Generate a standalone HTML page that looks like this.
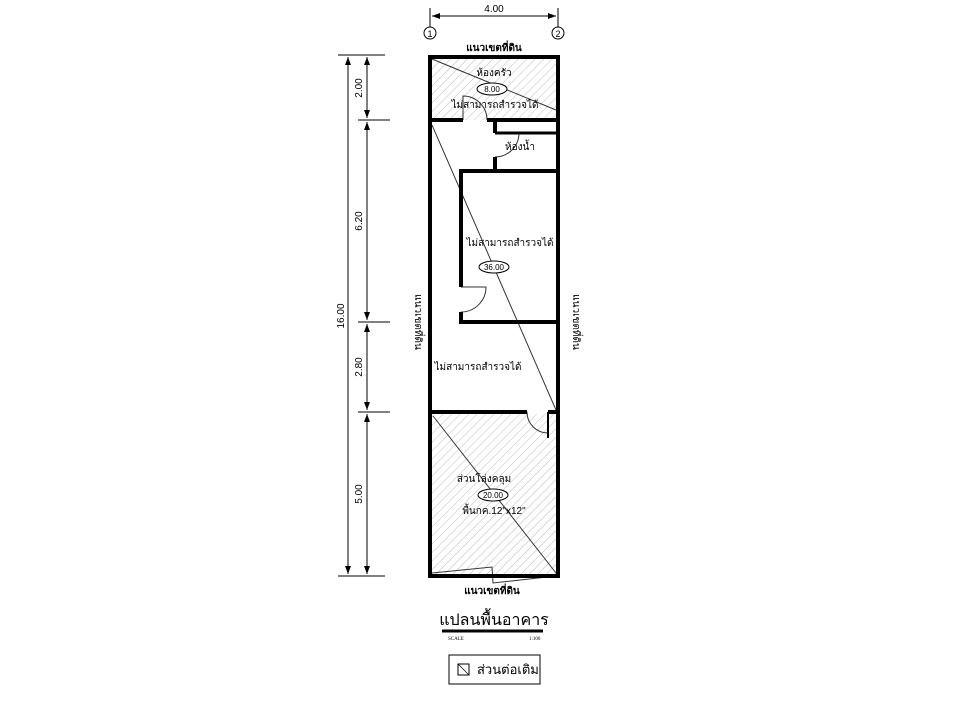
<!DOCTYPE html>
<html><head><meta charset="utf-8"><style>
html,body{margin:0;padding:0;background:#fff;}
svg{display:block;font-family:"Liberation Sans",sans-serif;}
</style></head><body>
<svg width="960" height="720" viewBox="0 0 960 720" xmlns="http://www.w3.org/2000/svg">
<defs>
<pattern id="h" width="6" height="6" patternUnits="userSpaceOnUse" patternTransform="rotate(45)">
<line x1="0" y1="0" x2="0" y2="6" stroke="#bbb" stroke-width="1"/>
</pattern>
<marker id="a" markerWidth="8" markerHeight="6" refX="8" refY="3" orient="auto"><path d="M0,0 L8,3 L0,6z" fill="#000"/></marker>
</defs>
<!-- hatches -->
<rect x="432" y="59" width="124" height="61" fill="url(#h)"/>
<rect x="432" y="414" width="124" height="160" fill="url(#h)"/>
<!-- top dim -->
<line x1="430" y1="8" x2="430" y2="32" stroke="#000"/>
<line x1="558" y1="8" x2="558" y2="32" stroke="#000"/>
<line x1="432" y1="16" x2="556" y2="16" stroke="#000" marker-end="url(#a)"/>
<line x1="556" y1="16" x2="432" y2="16" stroke="#000" marker-end="url(#a)"/>
<text x="494" y="12" font-size="10" text-anchor="middle">4.00</text>
<circle cx="430" cy="33" r="6" fill="#fff" stroke="#000"/><text x="430" y="37" font-size="9" text-anchor="middle">1</text>
<circle cx="558" cy="33" r="6" fill="#fff" stroke="#000"/><text x="558" y="37" font-size="9" text-anchor="middle">2</text>
<text x="494" y="51" font-size="10" font-weight="bold" text-anchor="middle">แนวเขตที่ดิน</text>
<!-- left dims -->
<g stroke="#000" stroke-width="1">
<line x1="338" y1="55" x2="385" y2="55"/>
<line x1="358" y1="120" x2="390" y2="120"/>
<line x1="358" y1="322" x2="390" y2="322"/>
<line x1="358" y1="412" x2="390" y2="412"/>
<line x1="338" y1="576" x2="385" y2="576"/>
<line x1="348" y1="57" x2="348" y2="574" marker-end="url(#a)"/>
<line x1="348" y1="574" x2="348" y2="57" marker-end="url(#a)"/>
<line x1="367" y1="57" x2="367" y2="118" marker-end="url(#a)"/>
<line x1="367" y1="118" x2="367" y2="57" marker-end="url(#a)"/>
<line x1="367" y1="122" x2="367" y2="320" marker-end="url(#a)"/>
<line x1="367" y1="320" x2="367" y2="122" marker-end="url(#a)"/>
<line x1="367" y1="324" x2="367" y2="410" marker-end="url(#a)"/>
<line x1="367" y1="410" x2="367" y2="324" marker-end="url(#a)"/>
<line x1="367" y1="414" x2="367" y2="574" marker-end="url(#a)"/>
<line x1="367" y1="574" x2="367" y2="414" marker-end="url(#a)"/>
</g>
<g font-size="10" text-anchor="middle">
<text transform="translate(362,88) rotate(-90)">2.00</text>
<text transform="translate(362,221) rotate(-90)">6.20</text>
<text transform="translate(362,367) rotate(-90)">2.80</text>
<text transform="translate(362,494) rotate(-90)">5.00</text>
<text transform="translate(344,316) rotate(-90)">16.00</text>
</g>
<!-- side labels -->
<text transform="translate(415,322) rotate(90)" font-size="10" text-anchor="middle">แนวเขตที่ดิน</text>
<text transform="translate(573,322) rotate(90)" font-size="10" text-anchor="middle">แนวเขตที่ดิน</text>
<!-- diagonals -->
<g stroke="#333" stroke-width="1" fill="none">
<line x1="432" y1="59" x2="556" y2="110"/>
<line x1="432" y1="125" x2="556" y2="410"/>
<line x1="433" y1="416" x2="556" y2="573"/>
<polyline points="432,573 492,567 493,583 556,576"/>
<path d="M463,120 L463,96 A24,24 0 0 1 487,120"/>
<path d="M495,133 L519,133 A24,24 0 0 1 495,157"/>
<path d="M461,287 L486,287 A25,25 0 0 1 461,312"/>
<path d="M527,412 A21,21 0 0 0 548,433"/>
</g>
<!-- walls -->
<g stroke="#000" stroke-width="4" fill="none">
<rect x="430" y="57" width="128" height="519"/>
<line x1="430" y1="120" x2="463" y2="120"/>
<line x1="487" y1="120" x2="558" y2="120"/>
<line x1="495" y1="120" x2="495" y2="133"/>
<line x1="495" y1="133" x2="558" y2="133" stroke-width="3"/>
<line x1="495" y1="157" x2="495" y2="170"/>
<line x1="459" y1="171" x2="558" y2="171"/>
<line x1="461" y1="171" x2="461" y2="287"/>
<line x1="461" y1="312" x2="461" y2="324"/>
<line x1="459" y1="322" x2="558" y2="322"/>
<line x1="430" y1="412" x2="527" y2="412"/>
<line x1="548" y1="412" x2="558" y2="412"/>
<line x1="548" y1="412" x2="548" y2="438" stroke-width="2"/>
</g>
<!-- room labels -->
<g font-size="10" text-anchor="middle">
<text x="494" y="76">ห้องครัว</text>
<ellipse cx="492" cy="89" rx="15" ry="6" fill="#fff" stroke="#000"/>
<text x="492" y="92" font-size="8">8.00</text>
<text x="495" y="108">ไม่สามารถสำรวจได้</text>
<text x="520" y="150">ห้องน้ำ</text>
<text x="510" y="246">ไม่สามารถสำรวจได้</text>
<ellipse cx="494" cy="267" rx="15" ry="6" fill="#fff" stroke="#000"/>
<text x="494" y="270" font-size="8">36.00</text>
<text x="478" y="370">ไม่สามารถสำรวจได้</text>
<text x="484" y="482">ส่วนโล่งคลุม</text>
<ellipse cx="493" cy="495" rx="15" ry="6" fill="#fff" stroke="#000"/>
<text x="493" y="498" font-size="8">20.00</text>
<text x="494" y="514">พื้นกค.12"x12"</text>
<text x="492" y="594" font-weight="bold">แนวเขตที่ดิน</text>
</g>
<!-- title -->
<text x="494" y="625" font-size="16" text-anchor="middle">แปลนพื้นอาคาร</text>
<line x1="442" y1="631" x2="543" y2="631" stroke="#000" stroke-width="3"/>
<text x="448" y="640" font-size="5" font-family="Liberation Serif,serif">SCALE</text>
<text x="529" y="640" font-size="5" font-family="Liberation Serif,serif">1:100</text>
<rect x="449" y="655" width="91" height="29" fill="#fff" stroke="#000"/>
<rect x="458" y="664" width="11" height="11" fill="#fff" stroke="#000"/>
<line x1="458" y1="664" x2="469" y2="675" stroke="#000" stroke-width="0.7"/>
<text x="477" y="674" font-size="13">ส่วนต่อเติม</text>
</svg>
</body></html>
